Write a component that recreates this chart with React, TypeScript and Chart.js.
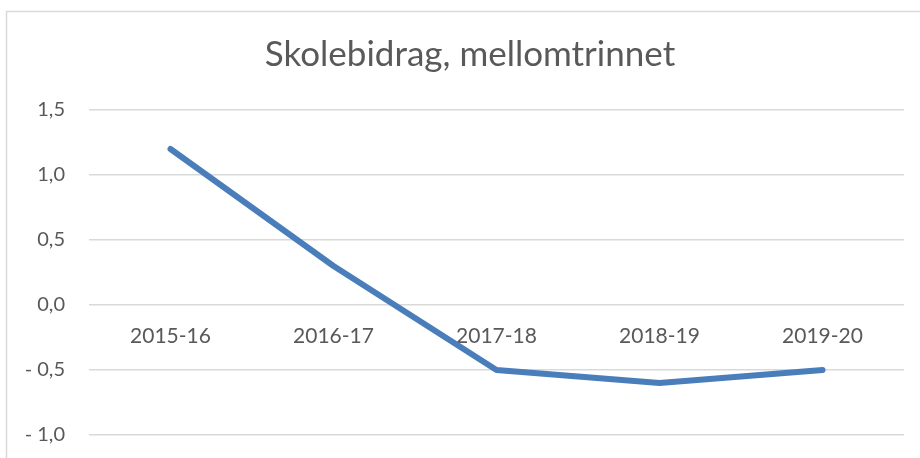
import React, { useEffect, useRef } from "react";
import { Chart, registerables } from "chart.js";

Chart.register(...registerables);

const categories = ["2015-16", "2016-17", "2017-18", "2018-19", "2019-20"];
const values = [1.2, 0.3, -0.5, -0.6, -0.5];
const yTickValues = [-1.0, -0.5, 0.0, 0.5, 1.0, 1.5];
const yTickLabels = ["- 1,0", "- 0,5", "0,0", "0,5", "1,0", "1,5"];
const titleText = "Skolebidrag, mellomtrinnet";

const FONT = "Lato, 'Open Sans', sans-serif";

const borderPlugin = {
  id: "outerBorder",
  beforeDraw(chart: any) {
    const ctx = chart.ctx;
    ctx.save();
    ctx.fillStyle = "#ffffff";
    ctx.fillRect(0, 0, chart.width, chart.height);
    ctx.strokeStyle = "#d9d9d9";
    ctx.lineWidth = 1.5;
    ctx.strokeRect(6.5, 11.5, chart.width + 20, chart.height + 20);
    ctx.restore();
  },
};

export default function App() {
  const ref = useRef<HTMLCanvasElement | null>(null);
  useEffect(() => {
    document.body.style.margin = "0";
    if (!ref.current) return;
    const chart = new Chart(ref.current, {
      type: "line",
      data: {
        labels: categories,
        datasets: [
          {
            data: values,
            borderColor: "#4a7ebb",
            borderWidth: 6,
            pointRadius: 0,
            borderCapStyle: "round",
            borderJoinStyle: "round",
            tension: 0,
            yAxisID: "y",
          },
        ],
      },
      options: {
        animation: false,
        responsive: false,
        layout: { padding: { left: 0, right: 0, top: 0, bottom: 23 } },
        plugins: {
          legend: { display: false },
          tooltip: { enabled: false },
          title: {
            display: true,
            text: titleText,
            color: "#595959",
            font: { family: FONT, size: 35, weight: "normal" },
            padding: { top: 34, bottom: 34 },
          },
        },
        scales: {
          x: {
            position: { y: 0 } as any,
            offset: true,
            afterFit(scale: any) {
              scale.height = 0;
              scale.paddingLeft = 0;
              scale.paddingRight = 0;
            },
            grid: { display: false, drawTicks: false, offset: true },
            border: { display: false },
            ticks: {
              color: "#595959",
              font: { family: FONT, size: 21 },
              padding: 19,
              maxRotation: 0,
            },
          },
          y: {
            min: -1.0,
            max: 1.5,
            afterBuildTicks(scale: any) {
              scale.ticks = yTickValues.map((v) => ({ value: v }));
            },
            afterFit(scale: any) {
              scale.width = 89;
              scale.paddingTop = 0;
              scale.paddingBottom = 0;
            },
            grid: { color: "#d9d9d9", lineWidth: 1.5, drawTicks: false },
            border: { display: false },
            ticks: {
              color: "#595959",
              font: { family: FONT, size: 20 },
              padding: 24,
              callback: (v: any) => {
                const i = yTickValues.findIndex((t) => Math.abs(t - Number(v)) < 1e-6);
                return i >= 0 ? yTickLabels[i] : "";
              },
            },
          },
          yRight: {
            position: "right",
            min: -1.0,
            max: 1.5,
            afterFit(scale: any) {
              scale.width = 36;
              scale.paddingTop = 0;
              scale.paddingBottom = 0;
            },
            grid: { display: false, drawTicks: false },
            border: { display: false },
            ticks: { display: false },
          },
        },
      },
      plugins: [borderPlugin],
    } as any);
    return () => chart.destroy();
  }, []);
  return (
    <div style={{ width: 920, height: 458, overflow: "hidden", position: "relative" }}>
      <canvas ref={ref} width={940} height={458} style={{ display: "block" }} />
    </div>
  );
}
